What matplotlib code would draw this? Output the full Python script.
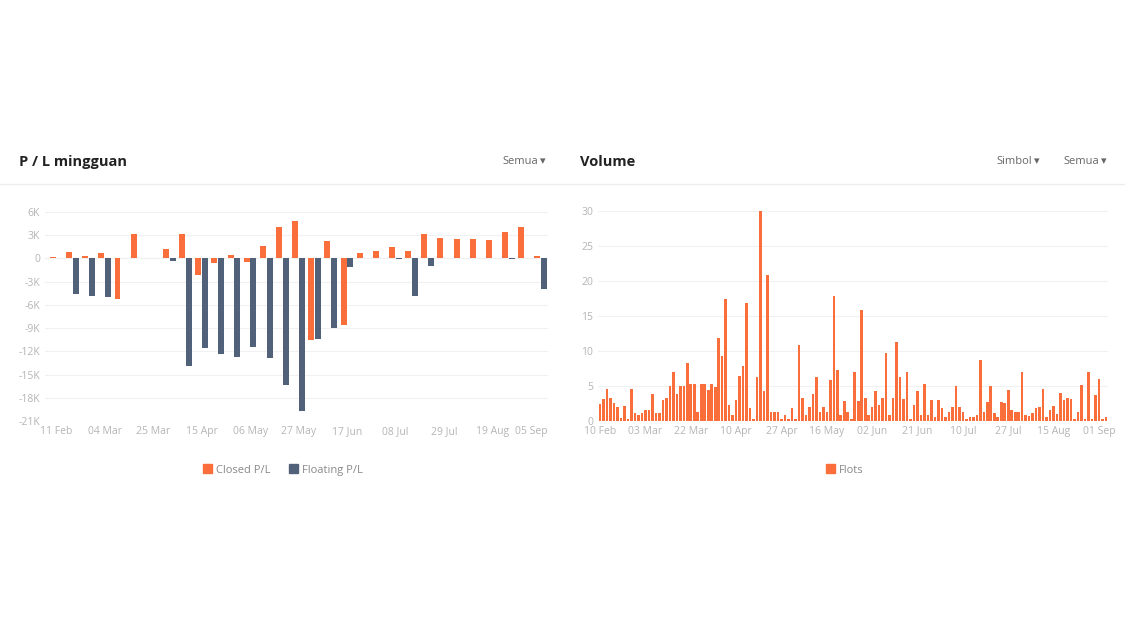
import matplotlib.pyplot as plt
from matplotlib.patches import Patch
from matplotlib.ticker import FuncFormatter

# data mingguan (dalam ribuan)
minggu_label = ["11 Feb", "04 Mar", "25 Mar", "15 Apr", "06 May", "27 May",
                "17 Jun", "08 Jul", "29 Jul", "19 Aug"]
label_akhir = "05 Sep"
closed_pl = [0.2, 0.8, 0.3, 0.65, -5.2, 3.1, 0.0, 1.25, 3.2, -2.2, -0.65,
             0.5, -0.4, 1.6, 4.1, 4.8, -10.6, 2.3, -8.6, 0.7, 1.0, 1.5,
             1.0, 3.2, 2.6, 2.5, 2.5, 2.4, 3.4, 4.0, 0.3]
floating_pl = [0.0, -4.6, -4.85, -5.0, 0.0, 0.0, 0.0, -0.35, -13.9, -11.6,
               -12.3, -12.7, -11.5, -12.9, -16.4, -19.7, -10.4, -9.0, -1.1,
               0.0, 0.0, -0.05, -4.8, -1.0, 0.0, 0.0, 0.0, 0.0, -0.1, 0.0,
               -3.9]

# volume harian (lots)
hari_label = ["10 Feb", "03 Mar", "22 Mar", "10 Apr", "27 Apr", "16 May",
              "02 Jun", "21 Jun", "10 Jul", "27 Jul", "15 Aug", "01 Sep"]
volume = [2.4, 3.1, 4.5, 3.2, 2.5, 1.9, 0.4, 2.1, 0.2, 4.5,
          1.1, 0.8, 1.1, 1.5, 1.5, 3.8, 1.1, 1.1, 3.0, 3.2,
          4.9, 6.9, 3.8, 4.9, 4.9, 8.3, 5.3, 5.3, 1.3, 5.3,
          5.3, 4.4, 5.3, 4.8, 11.9, 9.3, 17.4, 2.3, 0.8, 2.9,
          6.4, 7.8, 16.8, 1.8, 0.3, 6.3, 30.0, 4.3, 20.9, 1.3,
          1.3, 1.3, 0.3, 0.8, 0.3, 1.8, 0.3, 10.8, 3.3, 0.8,
          1.9, 3.8, 6.3, 1.3, 1.9, 1.3, 5.8, 17.8, 7.3, 0.8,
          2.8, 1.3, 0.3, 6.9, 2.8, 15.8, 3.3, 0.8, 1.9, 4.3,
          2.3, 3.3, 9.7, 0.8, 3.2, 11.3, 6.2, 3.1, 7.0, 0.2,
          2.3, 4.2, 0.8, 5.2, 0.8, 3.0, 0.5, 3.0, 1.8, 0.5,
          1.3, 1.9, 4.9, 2.0, 1.3, 0.2, 0.5, 0.5, 0.8, 8.7,
          1.3, 2.7, 4.9, 1.1, 0.5, 2.7, 2.6, 4.4, 1.5, 1.3,
          1.3, 7.0, 0.8, 0.7, 1.1, 1.8, 1.9, 4.5, 0.5, 1.5,
          2.1, 1.0, 4.0, 2.9, 3.3, 3.1, 0.3, 1.3, 5.1, 0.3,
          7.0, 0.2, 3.7, 5.9, 0.3, 0.6]

ORANYE = "#FA6E3C"
NAVY = "#52617A"
ABU = "#b5b5b5"
plt.rcParams["font.family"] = ["Open Sans", "DejaVu Sans"]


def gaya_axis(ax):
    for s in ax.spines.values():
        s.set_visible(False)
    ax.tick_params(length=0, colors=ABU, labelsize=7.5)
    ax.yaxis.grid(True, color="#f1f1f1", linewidth=0.8)
    ax.set_axisbelow(True)


def header(fig, x0, x1, judul, menu):
    y = (633 - 162) / 633
    fig.text(x0, y, judul, fontsize=10.5, fontweight="bold", color="#222222", va="center")
    for teks, xm in menu:
        fig.text(xm, y, teks, fontsize=8, color="#666666", va="center")
    fig.add_artist(plt.Line2D([x0 - 0.017, x1], [0.7093, 0.7093], color="#ececec", lw=0.9))


def panel_pl(fig):
    ax = fig.add_axes([45 / 1125, 212 / 633, 503 / 1125, 209 / 633])
    x = list(range(len(closed_pl)))
    w = 0.37
    ax.bar([i - 0.21 for i in x], [v * 1000 for v in closed_pl], width=w, color=ORANYE)
    ax.bar([i + 0.21 for i in x], [v * 1000 for v in floating_pl], width=w, color=NAVY)
    ax.axhline(0, color="#e2e2e2", lw=0.8, zorder=0)
    ax.set_ylim(-21000, 6000)
    ax.set_yticks(range(-21000, 6001, 3000))
    ax.yaxis.set_major_formatter(FuncFormatter(lambda v, p: "0" if v == 0 else f"{int(v / 1000)}K"))
    ax.set_xlim(-0.7, 30.45)
    pos = [i * 3 for i in range(len(minggu_label))] + [30.45]
    ax.set_xticks(pos)
    ax.set_xticklabels(minggu_label + [label_akhir])
    ax.get_xticklabels()[-1].set_horizontalalignment("right")
    gaya_axis(ax)
    ax.legend(handles=[Patch(color=ORANYE, label="Closed P/L"), Patch(color=NAVY, label="Floating P/L")],
              loc="center", bbox_to_anchor=(283 / 1125, (633 - 470) / 633),
              bbox_transform=fig.transFigure, ncol=2, frameon=False, fontsize=8,
              handlelength=0.8, handleheight=0.8, handletextpad=0.4, columnspacing=1.6,
              labelcolor="#888888")


def panel_volume(fig):
    ax = fig.add_axes([598 / 1125, 212.3 / 633, 510 / 1125, 209.7 / 633])
    x = list(range(len(volume)))
    ax.bar(x, volume, width=0.75, color=ORANYE)
    ax.set_ylim(0, 30)
    ax.set_yticks(range(0, 31, 5))
    ax.set_xlim(-0.6, len(volume) - 0.4)
    ax.set_xticks([i * 13 for i in range(len(hari_label))])
    ax.set_xticklabels(hari_label)
    gaya_axis(ax)
    ax.legend(handles=[Patch(color=ORANYE, label="Flots")],
              loc="center", bbox_to_anchor=(845 / 1125, (633 - 470) / 633),
              bbox_transform=fig.transFigure, frameon=False, fontsize=8,
              handlelength=0.8, handleheight=0.8, handletextpad=0.4,
              labelcolor="#888888")


fig = plt.figure(figsize=(11.25, 6.33), dpi=100)
header(fig, 19 / 1125, 560 / 1125, "P / L mingguan", [("Semua", 502 / 1125), ("▾", 540 / 1125)])
header(fig, 580 / 1125, 1.0, "Volume",
       [("Simbol", 996 / 1125), ("▾", 1034 / 1125), ("Semua", 1063 / 1125), ("▾", 1101 / 1125)])
panel_pl(fig)
panel_volume(fig)
fig.savefig("out.png", dpi=100)
